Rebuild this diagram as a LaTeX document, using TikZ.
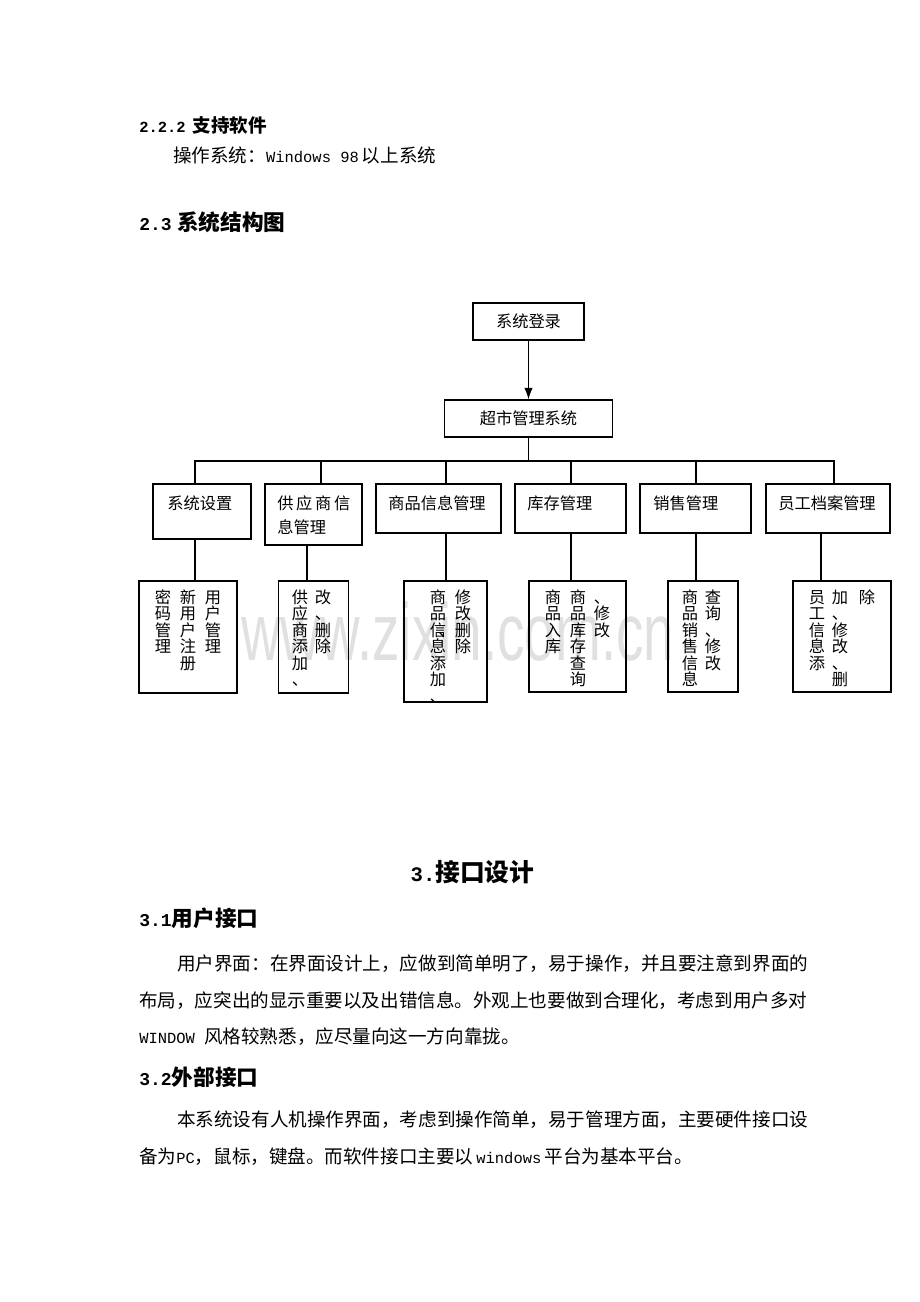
\documentclass[tikz,border=0pt]{standalone}
\usepackage{fontspec}
\setmainfont{Noto Sans CJK SC}
\newfontfamily\latmono{Liberation Mono}[Scale=0.8333]
\newfontfamily\wmfont{Liberation Sans}
\usetikzlibrary{calc,arrows.meta}
\newcommand{\hw}[1]{{\latmono #1}}
\newcommand{\pxu}{0.6467pt}
\newcommand{\topstrut}{\rule{0pt}{9pt}}

\begin{document}
\begin{tikzpicture}[x=0.6467pt,y=-0.6467pt]
\useasboundingbox (0,0) rectangle (920,1302);
\begin{scope}
	\tikzstyle{box}=[draw, line width=0.75pt, inner sep=0pt]
	\tikzstyle{wd}=[font=\fontsize{10.5pt}{15.5pt}\selectfont, inner sep=0pt]
	\tikzstyle{col}=[font=\fontsize{10.5pt}{10.67pt}\selectfont, inner sep=0pt, align=center, anchor=north]
	\tikzstyle{body}=[font=\fontsize{12pt}{14pt}\selectfont, inner sep=0pt, anchor=base west]
	\tikzstyle{hd}=[font=\bfseries\fontsize{14pt}{16pt}\selectfont, inner sep=0pt, anchor=base west]
	\tikzstyle{ln}=[line width=0.75pt]

	\node[body, font=\bfseries\fontsize{12pt}{14pt}\selectfont] (h222) at (139,132) {\hw{2.2.2}\hspace{4.5pt}支持软件};
	\node[body] (os) at (173,162) {操作系统：\hw{Windows 98}\hspace{2pt}以上系统};
	\node[hd] (h23) at (139,230) {\hw{2.3}\hspace{3.5pt}系统结构图};

	\node[inner sep=0pt, anchor=base west, text=black!12, font=\wmfont\fontsize{35.5pt}{37pt}\selectfont] (wm) at (241,660) {\scalebox{1}[1.48]{www.zixin.com.cn}};

	\node[box, wd, minimum width=111*\pxu, minimum height=37*\pxu] (login) at (528.5,321.5) {系统登录};
	\node[box, wd, minimum width=168*\pxu, minimum height=37*\pxu] (sys) at (528.5,418.5) {超市管理系统};
	\draw [ln][-{Latex[length=7.5pt,width=5.5pt]}] (login) -- (sys);
	\coordinate (bus) at (528.5,461);
	\draw [ln] (sys) -- (bus);

	\node[box, minimum width=98*\pxu, minimum height=55*\pxu] (set) at (202,511.5) {};
	\node[box, minimum width=97*\pxu, minimum height=61*\pxu] (sup) at (313.5,514.5) {};
	\node[box, minimum width=125*\pxu, minimum height=49*\pxu] (goods) at (438.5,508.5) {};
	\node[box, minimum width=111*\pxu, minimum height=49*\pxu] (stock) at (570.5,508.5) {};
	\node[box, minimum width=111*\pxu, minimum height=49*\pxu] (sale) at (695.5,508.5) {};
	\node[box, minimum width=124*\pxu, minimum height=49*\pxu] (staff) at (828,508.5) {};

	\node[wd, anchor=base west] (setT) at (167,509) {系统设置};
	\node[wd, anchor=north west, align=left] (supT) at (277,495.1) {\topstrut\makebox[47.2pt][s]{供 应 商 信}\\息管理};
	\node[wd, anchor=base west] (goodsT) at (388,509) {商品信息管理};
	\node[wd, anchor=base west] (stockT) at (527,509) {库存管理};
	\node[wd, anchor=base west] (saleT) at (653,509) {销售管理};
	\node[wd, anchor=base west] (staffT) at (778,509) {员工档案管理};

	\draw [ln] (bus) -| ($(set.north)+(-7,0)$);
	\draw [ln] (bus) -| ($(sup.north)+(7.5,0)$);
	\draw [ln] (bus) -| ($(goods.north)+(7.5,0)$);
	\draw [ln] (bus) -| ($(stock.north)+(0.5,0)$);
	\draw [ln] (bus) -| ($(sale.north)+(0.5,0)$);
	\draw [ln] (bus) -| ($(staff.north)+(6,0)$);

	\node[box, minimum width=98*\pxu, minimum height=112*\pxu] (setL) at (188,637) {};
	\node[box, minimum width=70*\pxu, minimum height=112*\pxu] (supL) at (313.5,637) {};
	\node[box, minimum width=83*\pxu, minimum height=121*\pxu] (goodsL) at (445.5,641.5) {};
	\node[box, minimum width=97*\pxu, minimum height=111*\pxu] (stockL) at (577.5,636.5) {};
	\node[box, minimum width=70*\pxu, minimum height=111*\pxu] (saleL) at (703,636.5) {};
	\node[box, minimum width=98*\pxu, minimum height=111*\pxu] (staffL) at (842,636.5) {};

	\draw [ln] ($(set.south)+(-7,0)$) -- ($(setL.north)+(7,0)$);
	\draw [ln] ($(sup.south)+(-6.5,0)$) -- ($(supL.north)+(-6.5,0)$);
	\draw [ln] ($(goods.south)+(7.5,0)$) -- ($(goodsL.north)+(0.5,0)$);
	\draw [ln] ($(stock.south)+(0.5,0)$) -- ($(stockL.north)+(-6.5,0)$);
	\draw [ln] ($(sale.south)+(0.5,0)$) -- ($(saleL.north)+(-7,0)$);
	\draw [ln] ($(staff.south)+(-7,0)$) -- ($(staffL.north)+(-21,0)$);

	\node[col] (c1a) at (213,589) {\topstrut 用\\户\\管\\理};
	\node[col] (c1b) at (188,589) {\topstrut 新\\用\\户\\注\\册};
	\node[col] (c1c) at (163,589) {\topstrut 密\\码\\管\\理};
	\node[col] (c2a) at (323,589) {\topstrut 改\\、\\删\\除};
	\node[col] (c2b) at (300,589) {\topstrut 供\\应\\商\\添\\加\\、};
	\node[col] (c3a) at (463,589) {\topstrut 修\\改\\\llap{、}删\\除};
	\node[col] (c3b) at (438,589) {\topstrut 商\\品\\信\\息\\添\\加\\、};
	\node[col] (c4a) at (602,589) {\topstrut 、\\修\\改};
	\node[col] (c4b) at (578,589) {\topstrut 商\\品\\库\\存\\查\\询};
	\node[col] (c4c) at (553,589) {\topstrut 商\\品\\入\\库};
	\node[col] (c5a) at (713,589) {\topstrut 查\\询\\、\\修\\改};
	\node[col] (c5b) at (690,589) {\topstrut 商\\品\\销\\售\\信\\息};
	\node[col] (c6a) at (867,589) {\topstrut 除};
	\node[col] (c6b) at (840,589) {\topstrut 加\\、\\修\\改\\、\\删};
	\node[col] (c6c) at (817,589) {\topstrut 员\\工\\信\\息\\添};

	\node[inner sep=0pt, anchor=base, font=\bfseries\fontsize{16pt}{18pt}\selectfont] (h3) at (472.5,881) {\hw{3.}接口设计};
	\node[hd] (h31) at (139,926) {\hw{3.1}用户接口};
	\node[body] (p1a) at (177,970) {用户界面：在界面设计上，应做到简单明了，易于操作，并且要注意到界面的};
	\node[body] (p1b) at (139,1007) {布局，应突出的显示重要以及出错信息。外观上也要做到合理化，考虑到用户多对};
	\node[body] (p1c) at (139,1043) {\hw{WINDOW }风格较熟悉，应尽量向这一方向靠拢。};
	\node[hd] (h32) at (139,1085) {\hw{3.2}外部接口};
	\node[body] (p2a) at (177,1126) {本系统设有人机操作界面，考虑到操作简单，易于管理方面，主要硬件接口设};
	\node[body] (p2b) at (139,1163) {备为\hw{PC}，鼠标，键盘。而软件接口主要以\hspace{2pt}\hw{windows}\hspace{2pt}平台为基本平台。};
\end{scope}
\end{tikzpicture}
\end{document}
